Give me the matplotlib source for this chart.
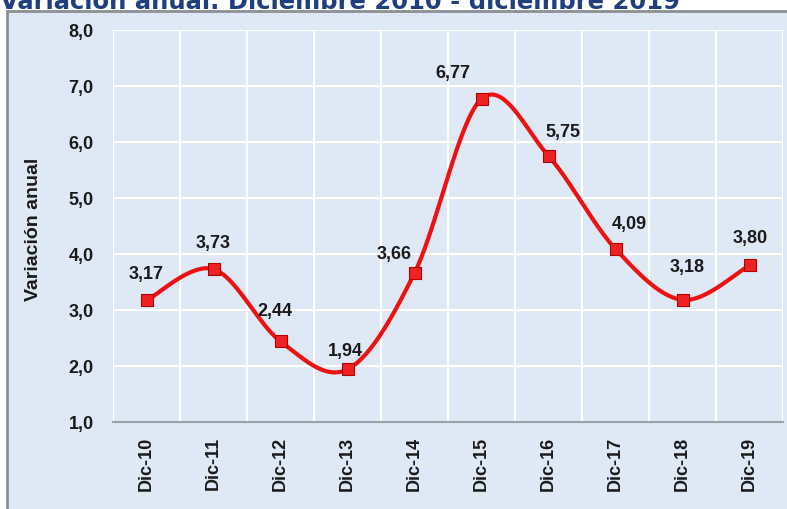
import numpy as np
import matplotlib.pyplot as plt
from matplotlib.patches import Rectangle

plt.rcParams['font.family'] = ['Liberation Sans', 'DejaVu Sans']

# datos
categorias = ['Dic-10', 'Dic-11', 'Dic-12', 'Dic-13', 'Dic-14',
              'Dic-15', 'Dic-16', 'Dic-17', 'Dic-18', 'Dic-19']
variacion = [3.17, 3.73, 2.44, 1.94, 3.66, 6.77, 5.75, 4.09, 3.18, 3.80]
etiquetas = ['3,17', '3,73', '2,44', '1,94', '3,66', '6,77', '5,75', '4,09', '3,18', '3,80']
# desplazamiento de cada etiqueta (pixeles)
desp = [(0, 27), (0, 27), (-6, 31), (-2, 19), (-20, 20),
        (-29, 26), (14, 25), (14, 25), (5, 33), (1, 28)]

W, H = 787, 510
fig = plt.figure(figsize=(W / 100, H / 100), dpi=100)
fig.patch.set_facecolor('white')

fondo = '#dfe9f6'
# marco del grafico
marco = Rectangle((7 / W, -0.01), 1 - 7 / W + 0.01, 1 - 12 / H + 0.01,
                  transform=fig.transFigure, facecolor=fondo,
                  edgecolor='#8a8f96', linewidth=2, zorder=-5)
fig.add_artist(marco)

fig.text(0 / W, 1 - 9 / H, 'Variación anual. Diciembre 2010 - diciembre 2019',
         fontsize=17.5, fontweight='bold', color='#1f3f7f', va='baseline', ha='left',
         family='DejaVu Sans')

ax = fig.add_axes([113 / W, 1 - 423 / H, 670 / W, 392 / H])
ax.set_facecolor(fondo)

x = np.arange(len(categorias))
y = np.array(variacion)

# curva suavizada tipo Excel (Bezier Catmull-Rom)
px = np.concatenate([[x[0]], x, [x[-1]]])
py = np.concatenate([[y[0]], y, [y[-1]]])
cx, cy = [], []
t = np.linspace(0, 1, 40)
for i in range(1, len(px) - 2):
    p0 = np.array([px[i], py[i]])
    p3 = np.array([px[i + 1], py[i + 1]])
    p1 = p0 + (np.array([px[i + 1], py[i + 1]]) - np.array([px[i - 1], py[i - 1]])) / 6
    p2 = p3 - (np.array([px[i + 2], py[i + 2]]) - np.array([px[i], py[i]])) / 6
    b = ((1 - t) ** 3)[:, None] * p0 + (3 * (1 - t) ** 2 * t)[:, None] * p1 \
        + (3 * (1 - t) * t ** 2)[:, None] * p2 + (t ** 3)[:, None] * p3
    cx.extend(b[:, 0])
    cy.extend(b[:, 1])

ax.plot(cx, cy, color='#ee1111', linewidth=3, zorder=3, solid_capstyle='round')
ax.plot(x, y, linestyle='none', marker='s', markersize=8.5,
        markerfacecolor='#ee2222', markeredgecolor='#b00000', markeredgewidth=0.8, zorder=4)

for xi, yi, et, (dx, dy) in zip(x, y, etiquetas, desp):
    ax.annotate(et, (xi, yi), xytext=(dx, dy), textcoords='offset pixels',
                ha='center', va='center', fontsize=13, fontweight='bold', color='#1a1a1a')

ax.set_xlim(-0.5, len(categorias) - 0.5)
ax.set_ylim(1, 8)
ax.set_yticks(np.arange(1, 9))
ax.set_yticklabels([('%.1f' % v).replace('.', ',') for v in np.arange(1, 9)],
                   fontsize=13, fontweight='bold', color='#1a1a1a')
ax.set_xticks(x)
ax.set_xticklabels(categorias, rotation=90, fontsize=13, fontweight='bold', color='#1a1a1a')

ax.set_xticks(np.arange(-0.5, len(categorias)), minor=True)
ax.grid(True, which='minor', axis='x', color='white', linewidth=1.5)
ax.grid(True, which='major', axis='y', color='white', linewidth=1.5)
ax.set_axisbelow(True)
ax.tick_params(axis='both', which='both', length=0)
ax.tick_params(axis='y', pad=14)
ax.tick_params(axis='x', pad=10)

for s in ['top', 'right', 'left']:
    ax.spines[s].set_visible(False)
ax.spines['bottom'].set_color('#9aa0a8')
ax.spines['bottom'].set_linewidth(1.5)

fig.text(33 / W, 1 - 229 / H, 'Variación anual', rotation=90, fontsize=14,
         fontweight='bold', color='#1a1a1a', ha='center', va='center')

fig.savefig('out.png', dpi=100)
